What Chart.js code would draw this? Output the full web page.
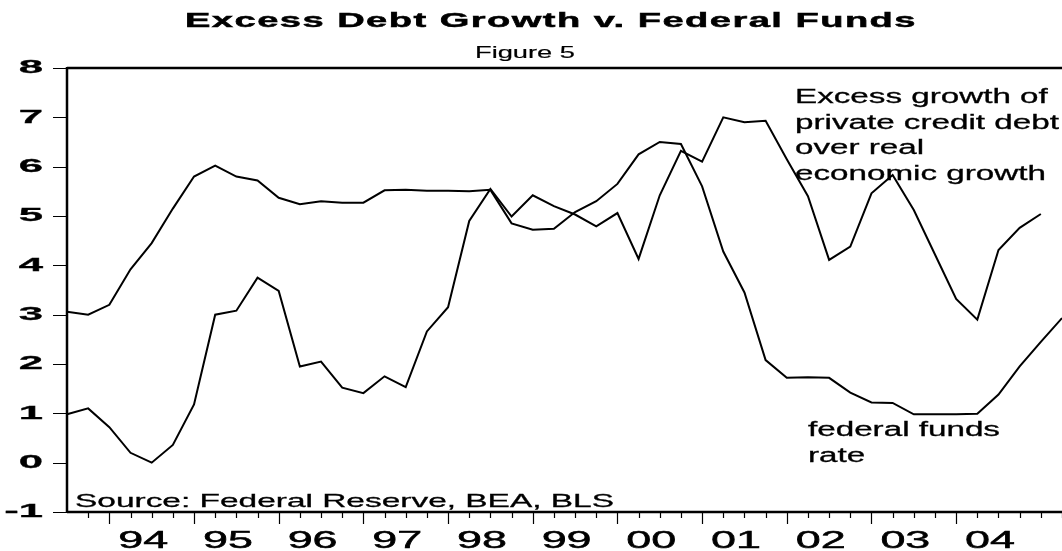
<!DOCTYPE html>
<html>
<head>
<meta charset="utf-8">
<title>Excess Debt Growth v. Federal Funds</title>
<script src="https://cdn.jsdelivr.net/npm/chart.js@4.4.1/dist/chart.umd.min.js"></script>
<style>
    html, body { margin: 0; padding: 0; background: #fff; }
    #wrap { width: 1062px; height: 551px; }
</style>
</head>
<body>
<div id="wrap"><canvas id="debtChart" width="1062" height="551"></canvas></div>
<script>
const quarters = [
    '1993Q3', '1993Q4',
    '1994Q1', '1994Q2', '1994Q3', '1994Q4',
    '1995Q1', '1995Q2', '1995Q3', '1995Q4',
    '1996Q1', '1996Q2', '1996Q3', '1996Q4',
    '1997Q1', '1997Q2', '1997Q3', '1997Q4',
    '1998Q1', '1998Q2', '1998Q3', '1998Q4',
    '1999Q1', '1999Q2', '1999Q3', '1999Q4',
    '2000Q1', '2000Q2', '2000Q3', '2000Q4',
    '2001Q1', '2001Q2', '2001Q3', '2001Q4',
    '2002Q1', '2002Q2', '2002Q3', '2002Q4',
    '2003Q1', '2003Q2', '2003Q3', '2003Q4',
    '2004Q1', '2004Q2', '2004Q3', '2004Q4',
    '2005Q1', '2005Q2'
];

const fedFunds = [
    3.06, 3.00,
    3.20, 3.92, 4.45, 5.15,
    5.80, 6.02, 5.80, 5.72,
    5.37, 5.24, 5.30, 5.27,
    5.27, 5.52, 5.53, 5.51,
    5.51, 5.50, 5.53, 4.85,
    4.72, 4.74, 5.08, 5.30,
    5.65, 6.25, 6.50, 6.46,
    5.60, 4.28, 3.45, 2.08,
    1.72, 1.73, 1.72, 1.42,
    1.22, 1.21, 0.98, 0.98,
    0.98, 0.99, 1.38, 1.95,
    2.45, 2.93
];

const excessDebt = [
    0.98, 1.10,
    0.72, 0.20, 0.00, 0.36,
    1.18, 3.00, 3.08, 3.75,
    3.48, 1.95, 2.05, 1.52,
    1.41, 1.75, 1.53, 2.66,
    3.15, 4.90, 5.55, 4.99,
    5.42, 5.20, 5.03, 4.79,
    5.06, 4.13, 5.42, 6.32,
    6.10, 7.00, 6.90, 6.93,
    6.15, 5.40, 4.11, 4.38,
    5.46, 5.83, 5.12, 4.22,
    3.32, 2.90, 4.31, 4.76,
    5.04, null
];

const yTicks = [-1, 0, 1, 2, 3, 4, 5, 6, 7, 8];
const yearLabels = ['94', '95', '96', '97', '98', '99', '00', '01', '02', '03', '04'];
const yearStartIndex = [2, 6, 10, 14, 18, 22, 26, 30, 34, 38, 42];

const titleText = 'Excess Debt Growth v. Federal Funds';
const subtitleText = 'Figure 5';
const excessNote = ['Excess growth of', 'private credit debt', 'over real', 'economic growth'];
const fundsNote = ['federal funds', 'rate'];
const sourceNote = 'Source: Federal Reserve, BEA, BLS';

const FAMILY = '"Liberation Sans", Arial, Helvetica, sans-serif';

// scanned print looks heavier than screen text, so a thin outline is added
function drawText(ctx, text, x, y, font, sx, align, baseline, weight) {
    ctx.save();
    ctx.font = font;
    ctx.fillStyle = '#000';
    ctx.strokeStyle = '#000';
    ctx.lineWidth = weight || 0;
    ctx.textAlign = align || 'left';
    ctx.textBaseline = baseline || 'alphabetic';
    ctx.translate(x, y);
    ctx.scale(sx, 1);
    ctx.fillText(text, 0, 0);
    if (weight) ctx.strokeText(text, 0, 0);
    ctx.restore();
}

function drawFitted(ctx, text, x, y, font, width, spacing, weight) {
    ctx.save();
    ctx.font = font;
    if ('letterSpacing' in ctx) ctx.letterSpacing = spacing + 'px';
    const w = ctx.measureText(text).width;
    ctx.fillStyle = '#000';
    ctx.strokeStyle = '#000';
    ctx.lineWidth = weight || 0;
    ctx.textAlign = 'left';
    ctx.textBaseline = 'alphabetic';
    ctx.translate(x, y);
    ctx.scale(width / w, 1);
    ctx.fillText(text, 0, 0);
    if (weight) ctx.strokeText(text, 0, 0);
    ctx.restore();
}

const framePlugin = {
    id: 'frame',
    afterDraw(chart) {
        const ctx = chart.ctx;
        const area = chart.chartArea;
        const xs = chart.scales.x;
        const ys = chart.scales.y;

        ctx.save();
        ctx.strokeStyle = '#000';

        // frame: left axis, bottom axis, top rule
        ctx.lineWidth = 2.5;
        ctx.beginPath();
        ctx.moveTo(area.left, area.top);
        ctx.lineTo(area.right, area.top);
        ctx.moveTo(area.left, area.top - 1);
        ctx.lineTo(area.left, area.bottom + 1);
        ctx.moveTo(area.left, area.bottom);
        ctx.lineTo(area.right, area.bottom);
        ctx.stroke();

        // y ticks
        ctx.lineWidth = 1.2;
        ctx.beginPath();
        yTicks.forEach(v => {
            const py = Math.round(ys.getPixelForValue(v)) + 0.5;
            ctx.moveTo(area.left - 14, py);
            ctx.lineTo(area.left, py);
        });
        ctx.stroke();

        // x ticks: every quarter, longer at year starts
        ctx.beginPath();
        for (let i = 1; i < quarters.length; i++) {
            const px = Math.round(xs.getPixelForValue(i)) + 0.5;
            const len = yearStartIndex.includes(i) ? 12 : 6;
            ctx.moveTo(px, area.bottom);
            ctx.lineTo(px, area.bottom + len);
        }
        ctx.stroke();
        ctx.restore();

        yTicks.forEach(v => {
            drawText(ctx, String(v), 43, ys.getPixelForValue(v), 'bold 19px ' + FAMILY, 2.3, 'right', 'middle', 0.3);
        });

        const step = xs.getPixelForValue(1) - xs.getPixelForValue(0);
        yearLabels.forEach((lab, k) => {
            const px = xs.getPixelForValue(yearStartIndex[k]) + 1.6 * step;
            drawText(ctx, lab, px, 548, '23px ' + FAMILY, 1.95, 'center', 'alphabetic', 0.5);
        });

        drawFitted(ctx, titleText, 185, 27, 'bold 21px ' + FAMILY, 732, 0.8, 0.5);
        drawFitted(ctx, subtitleText, 475, 58, '17px ' + FAMILY, 100, 0, 0.2);

        excessNote.forEach((line, k) => {
            drawText(ctx, line, 795, 103 + k * 25.7, '20px ' + FAMILY, 1.66, 'left', 'alphabetic', 0.3);
        });
        fundsNote.forEach((line, k) => {
            drawText(ctx, line, 808, 436 + k * 25.7, '20px ' + FAMILY, 1.66, 'left', 'alphabetic', 0.3);
        });
        drawText(ctx, sourceNote, 75, 507, '19px ' + FAMILY, 1.76, 'left', 'alphabetic', 0.3);
    }
};

function createChart() {
    const ctx = document.getElementById('debtChart').getContext('2d');

    new Chart(ctx, {
        type: 'line',
        data: {
            labels: quarters,
            datasets: [
                {
                    label: 'federal funds rate',
                    data: fedFunds,
                    borderColor: '#000',
                    borderWidth: 2,
                    pointRadius: 0,
                    tension: 0
                },
                {
                    label: 'Excess growth of private credit debt over real economic growth',
                    data: excessDebt,
                    borderColor: '#000',
                    borderWidth: 2,
                    pointRadius: 0,
                    tension: 0
                }
            ]
        },
        options: {
            responsive: false,
            animation: false,
            layout: {
                padding: { left: 67, top: 68, right: 0, bottom: 39 }
            },
            plugins: {
                legend: { display: false },
                title: { display: false },
                tooltip: { enabled: false }
            },
            scales: {
                x: {
                    type: 'category',
                    display: false,
                    offset: false
                },
                y: {
                    type: 'linear',
                    display: false,
                    min: -1,
                    max: 8
                }
            }
        },
        plugins: [framePlugin]
    });
}

window.onload = createChart;
</script>
</body>
</html>
